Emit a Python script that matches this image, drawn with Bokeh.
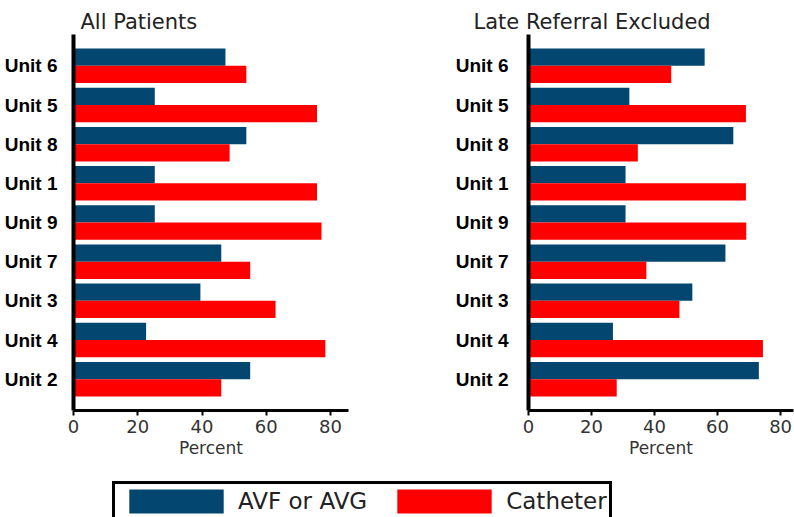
from bokeh.plotting import figure
from bokeh.models import ColumnDataSource, FixedTicker, Legend, LegendItem
from bokeh.layouts import column, row
from bokeh.transform import dodge
from bokeh.embed import file_html
from bokeh.resources import INLINE

# ---- data ----
units = ["Unit 6", "Unit 5", "Unit 8", "Unit 1", "Unit 9", "Unit 7", "Unit 3", "Unit 4", "Unit 2"]
all_avf = [47.3, 25.3, 53.8, 25.3, 25.3, 46.0, 39.5, 22.6, 55.0]
all_cath = [53.8, 75.8, 48.6, 75.8, 77.2, 55.0, 62.9, 78.4, 46.0]
late_avf = [55.9, 32.0, 65.0, 30.8, 30.8, 62.5, 52.0, 26.8, 73.1]
late_cath = [45.3, 69.0, 34.7, 69.0, 69.1, 37.4, 47.9, 74.4, 28.0]
x_ticks = [0, 20, 40, 60, 80]
series_names = ["AVF or AVG", "Catheter"]
title_left = "All Patients"
title_right = "Late Referral Excluded"
x_label = "Percent"

BLUE = "#03466F"
RED = "#FF0000"

pos = list(range(len(units) - 1, -1, -1))  # first unit on top


def make_panel(title, avf, cath, width, bl, br, x_end, lab_standoff, t_offset):
    src = ColumnDataSource(dict(y=pos, avf=avf, cath=cath))
    p = figure(width=width, height=468, x_range=(0, x_end), y_range=(-0.8, 8.8),
               output_backend="svg", toolbar_location=None,
               min_border_left=bl, min_border_right=br,
               min_border_top=34, min_border_bottom=58)
    p.hbar(y=dodge("y", 0.22, range=p.y_range), left=0, right="avf", height=0.44,
           source=src, fill_color=BLUE, line_color=None)
    p.hbar(y=dodge("y", -0.22, range=p.y_range), left=0, right="cath", height=0.44,
           source=src, fill_color=RED, line_color=None)
    p.outline_line_color = None
    p.grid.visible = False
    p.background_fill_color = "white"

    ya = p.yaxis[0]
    ya.ticker = FixedTicker(ticks=pos)
    ya.major_label_overrides = {pp: u for pp, u in zip(pos, units)}
    ya.axis_line_width = 4
    ya.axis_line_color = "black"
    ya.major_tick_line_color = None
    ya.minor_tick_line_color = None
    ya.major_label_text_font = "Liberation Sans"
    ya.major_label_text_font_style = "bold"
    ya.major_label_text_font_size = "19px"
    ya.major_label_text_color = "black"
    ya.major_label_standoff = lab_standoff

    xa = p.xaxis[0]
    xa.ticker = FixedTicker(ticks=x_ticks)
    xa.axis_line_width = 3
    xa.axis_line_color = "black"
    xa.major_tick_in = 0
    xa.major_tick_out = 5
    xa.major_tick_line_width = 2
    xa.minor_tick_line_color = None
    xa.major_label_text_font = "DejaVu Sans"
    xa.major_label_text_font_size = "18px"
    xa.major_label_text_color = "#333333"
    xa.major_label_standoff = 4
    xa.axis_label = x_label
    xa.axis_label_text_font = "DejaVu Sans"
    xa.axis_label_text_font_size = "17px"
    xa.axis_label_text_font_style = "normal"
    xa.axis_label_text_color = "#333333"
    xa.axis_label_standoff = 2

    p.title.text = title
    p.title.text_font = "DejaVu Sans"
    p.title.text_font_size = "21px"
    p.title.text_font_style = "normal"
    p.title.text_color = "#222222"
    p.title.align = "left"
    p.title.offset = t_offset
    p.title.standoff = 2
    return p


p1 = make_panel(title_left, all_avf, all_cath, 398, 73, 50, 85.6, 10, 7)
p2 = make_panel(title_right, late_avf, late_cath, 396, 130, 1, 84.1, 14, -55)

# legend strip
p3 = figure(width=794, height=49, x_range=(10, 20), y_range=(10, 20),
            output_backend="svg", toolbar_location=None,
            x_axis_type=None, y_axis_type=None, min_border=0)
p3.outline_line_color = None
p3.grid.visible = False
r1 = p3.hbar(y=[0], left=0, right=[0], height=0.5, fill_color=BLUE, line_color=None)
r2 = p3.hbar(y=[0], left=0, right=[0], height=0.5, fill_color=RED, line_color=None)
legend = Legend(items=[LegendItem(label=series_names[0], renderers=[r1]),
                       LegendItem(label=series_names[1], renderers=[r2])],
                orientation="horizontal", location=(112, -4),
                border_line_color="black", border_line_width=3, border_line_alpha=1.0,
                padding=2, spacing=18, glyph_width=118, glyph_height=30,
                label_standoff=3, label_text_font="DejaVu Sans",
                label_text_font_size="23px", label_text_color="#222222",
                margin=0)
p3.add_layout(legend)

layout = column(row(p1, p2), p3)
open("out.html", "w").write(file_html(layout, INLINE))
